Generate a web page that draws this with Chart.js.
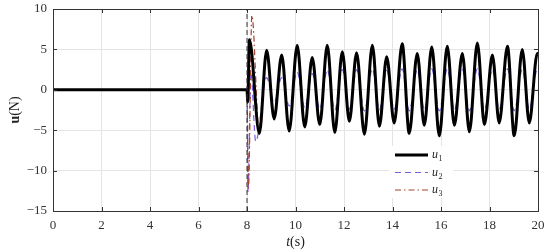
<!DOCTYPE html>
<html>
<head>
<meta charset="utf-8">
<script src="https://cdn.jsdelivr.net/npm/chart.js@4/dist/chart.umd.min.js"></script>
<style>
  html, body { margin: 0; padding: 0; background: #fff; }
  #wrap { width: 550px; height: 252px; }
</style>
</head>
<body>
<div id="wrap"><canvas id="c" width="550" height="252"></canvas></div>
<script>
// values (time in s, force in N)
const xTicks = [0, 2, 4, 6, 8, 10, 12, 14, 16, 18, 20];
const yTicks = [-15, -10, -5, 0, 5, 10];
const switchTime = 8;

const tU1 = [0, 8.0, 8.03, 8.1, 8.51, 8.81, 9.12, 9.43, 9.74, 10.07, 10.38, 10.69, 11.0, 11.31, 11.62, 11.93,
  12.22, 12.52, 12.84, 13.17, 13.46, 13.76, 14.07, 14.40, 14.69, 15.02, 15.31, 15.62, 15.93, 16.26, 16.55,
  16.88, 17.17, 17.50, 17.79, 18.12, 18.40, 18.74, 19.02, 19.35, 19.64, 19.97, 20];
const u1 = [0, 0, -1.5, 6.2, -5.4, 4.9, -3.6, 4.3, -5.1, 5.5, -4.6, 4.0, -4.3, 5.5, -5.3, 4.7,
  -3.9, 4.6, -5.5, 5.5, -4.5, 4.1, -4.1, 5.7, -5.4, 4.5, -4.4, 5.3, -5.7, 5.4, -4.4,
  4.5, -5.2, 5.8, -4.3, 4.3, -4.1, 5.4, -5.7, 5.0, -4.1, 4.5, 4.4];

const tU2 = [0, 8.0, 8.04, 8.16, 8.36, 8.81, 9.12, 9.43, 9.74, 10.07, 10.38, 10.69, 11.0, 11.31, 11.62, 11.93,
  12.22, 12.52, 12.84, 13.17, 13.46, 13.76, 14.07, 14.40, 14.69, 15.02, 15.31, 15.62, 15.93, 16.26, 16.55,
  16.88, 17.17, 17.50, 17.79, 18.12, 18.40, 18.74, 19.02, 19.35, 19.64, 19.97, 20];
const u2 = [0, 0, -12.7, 2.2, -6.4, 1.5, -1.6, 1.5, -2.0, 2.2, -2.2, 2.0, -2.4, 2.5, -2.5, 2.5,
  -2.4, 2.5, -2.6, 2.6, -2.5, 2.4, -2.4, 2.6, -2.6, 2.5, -2.5, 2.6, -2.6, 2.6, -2.5,
  2.5, -2.6, 2.6, -2.5, 2.5, -2.4, 2.6, -2.6, 2.5, -2.4, 2.5, 2.5];

const tU3 = [0, 8.0, 8.06, 8.2, 8.5, 8.81, 9.12, 9.43, 9.74, 10.07, 10.38, 10.69, 11.0, 11.31, 11.62, 11.93,
  12.22, 12.52, 12.84, 13.17, 13.46, 13.76, 14.07, 14.40, 14.69, 15.02, 15.31, 15.62, 15.93, 16.26, 16.55,
  16.88, 17.17, 17.50, 17.79, 18.12, 18.40, 18.74, 19.02, 19.35, 19.64, 19.97, 20];
const u3 = [0, 0, -12.2, 9.2, -5.0, 4.7, -3.5, 4.2, -4.9, 5.3, -4.4, 3.9, -4.2, 5.3, -5.1, 4.6,
  -3.8, 4.5, -5.3, 5.3, -4.4, 4.0, -4.0, 5.5, -5.2, 4.4, -4.3, 5.1, -5.5, 5.2, -4.3,
  4.4, -5.0, 5.6, -4.2, 4.2, -4.0, 5.2, -5.5, 4.8, -4.0, 4.4, 4.3];

const pts = (ts, vs) => ts.map((t, i) => ({ x: t, y: vs[i] }));

const serif = '"Liberation Serif", "DejaVu Serif", serif';
const minus = v => String(v).replace('-', '\u2212');

const legendItems = [
  { sub: '1', color: '#000000', width: 3, dash: [] },
  { sub: '2', color: '#7a5ce0', width: 1.2, dash: [6, 4] },
  { sub: '3', color: '#a8432e', width: 1.2, dash: [6, 3, 1.5, 3] }
];

const decor = {
  id: 'decor',
  beforeDatasetsDraw(chart) {
    const ctx = chart.ctx;
    // legend (white box, no border)
    ctx.save();
    ctx.fillStyle = '#fff';
    ctx.fillRect(389, 146, 64, 52);
    legendItems.forEach((it, i) => {
      const y = 155 + i * 17.5;
      ctx.beginPath();
      ctx.strokeStyle = it.color;
      ctx.lineWidth = it.width;
      ctx.setLineDash(it.dash);
      ctx.moveTo(395, y);
      ctx.lineTo(428, y);
      ctx.stroke();
      ctx.setLineDash([]);
      ctx.fillStyle = '#222';
      ctx.textBaseline = 'alphabetic';
      ctx.font = 'italic 12px ' + serif;
      ctx.fillText('u', 432, y + 3);
      ctx.font = '8px ' + serif;
      ctx.fillText(it.sub, 438.5, y + 6);
    });
    ctx.restore();
  },
  afterDraw(chart) {
    const ctx = chart.ctx;
    const a = chart.chartArea;
    const xs = chart.scales.x, ys = chart.scales.y;
    ctx.save();
    ctx.strokeStyle = '#333';
    ctx.lineWidth = 1;
    ctx.beginPath();
    xTicks.forEach(v => {
      const px = Math.round(xs.getPixelForValue(v)) + 0.5;
      ctx.moveTo(px, a.bottom); ctx.lineTo(px, a.bottom - 4);
      ctx.moveTo(px, a.top); ctx.lineTo(px, a.top + 4);
    });
    yTicks.forEach(v => {
      const py = Math.round(ys.getPixelForValue(v)) + 0.5;
      ctx.moveTo(a.left, py); ctx.lineTo(a.left + 4, py);
      ctx.moveTo(a.right, py); ctx.lineTo(a.right - 4, py);
    });
    ctx.stroke();
    ctx.strokeRect(Math.round(a.left) + 0.5, Math.round(a.top) + 0.5,
      Math.round(a.right - a.left), Math.round(a.bottom - a.top));

    // axis titles
    ctx.fillStyle = '#222';
    ctx.textBaseline = 'alphabetic';
    ctx.font = 'italic 14px ' + serif;
    const tW = ctx.measureText('t').width;
    ctx.font = '14px ' + serif;
    const sW = ctx.measureText('(s)').width;
    const x0 = (a.left + a.right) / 2 - (tW + sW) / 2;
    ctx.font = 'italic 14px ' + serif;
    ctx.fillText('t', x0, 246);
    ctx.font = '14px ' + serif;
    ctx.fillText('(s)', x0 + tW, 246);

    ctx.translate(19, (a.top + a.bottom) / 2);
    ctx.rotate(-Math.PI / 2);
    ctx.font = 'bold 14px ' + serif;
    const uW = ctx.measureText('u').width;
    ctx.font = '14px ' + serif;
    const nW = ctx.measureText('(N)').width;
    const y0 = -(uW + nW) / 2;
    ctx.font = 'bold 14px ' + serif;
    ctx.fillText('u', y0, 0);
    ctx.font = '14px ' + serif;
    ctx.fillText('(N)', y0 + uW, 0);
    ctx.restore();
  }
};

new Chart(document.getElementById('c'), {
  type: 'line',
  data: {
    datasets: [
      {
        label: 'u1', data: pts(tU1, u1), borderColor: '#000', borderWidth: 3,
        pointRadius: 0, cubicInterpolationMode: 'monotone', order: 1
      },
      {
        label: 'u3', data: pts(tU3, u3), borderColor: '#a8432e', borderWidth: 1.2,
        borderDash: [6, 3, 1.5, 3], pointRadius: 0, cubicInterpolationMode: 'monotone', order: 2
      },
      {
        label: 'u2', data: pts(tU2, u2), borderColor: '#7a5ce0', borderWidth: 1.2,
        borderDash: [6, 4], pointRadius: 0, cubicInterpolationMode: 'monotone', order: 3
      },
      {
        label: 'switch', data: [{ x: switchTime, y: yTicks[0] }, { x: switchTime, y: yTicks[yTicks.length - 1] }],
        borderColor: '#333', borderWidth: 1, borderDash: [5, 3], pointRadius: 0, order: 0
      }
    ]
  },
  options: {
    responsive: false,
    animation: false,
    layout: { padding: { left: 0, right: 12, top: 9, bottom: 0 } },
    plugins: { legend: { display: false }, tooltip: { enabled: false } },
    scales: {
      x: {
        type: 'linear', min: 0, max: 20,
        afterFit: s => { s.height = 41; s.paddingLeft = 0; s.paddingRight = 0; },
        afterBuildTicks: s => { s.ticks = xTicks.map(v => ({ value: v })); },
        grid: { color: '#e4e4e4', drawTicks: false },
        border: { display: false },
        ticks: { color: '#333', padding: 7, font: { family: serif, size: 13 }, callback: v => minus(v) }
      },
      y: {
        type: 'linear', min: -15, max: 10,
        afterFit: s => { s.width = 53; s.paddingTop = 0; s.paddingBottom = 0; },
        afterBuildTicks: s => { s.ticks = yTicks.map(v => ({ value: v })); },
        grid: { color: '#e4e4e4', drawTicks: false },
        border: { display: false },
        ticks: { color: '#333', padding: 6, font: { family: serif, size: 13 }, callback: v => minus(v) }
      }
    }
  },
  plugins: [decor]
});
</script>
</body>
</html>
